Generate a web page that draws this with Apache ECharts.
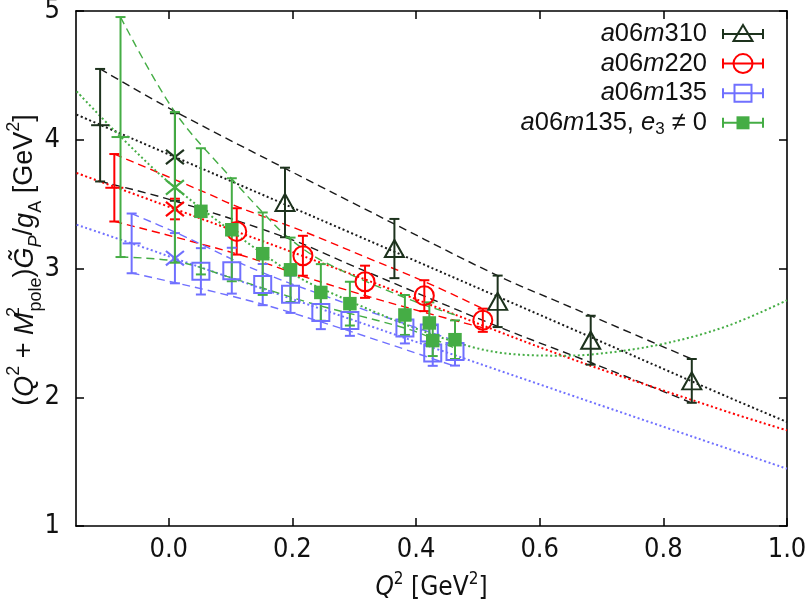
<!DOCTYPE html>
<html><head><meta charset="utf-8">
<script src="https://cdn.jsdelivr.net/npm/echarts@6/dist/echarts.min.js"></script>
<style>html,body{margin:0;padding:0;background:#fff}#c{width:806px;height:602px}</style>
</head><body><div id="c"></div>
<script>
// ---------------- data ----------------
const xTicks = [0.0, 0.2, 0.4, 0.6, 0.8, 1.0];
const yTicks = [1, 2, 3, 4, 5];

const m310Q2  = [0.188, 0.365, 0.532, 0.6825, 0.846];
const m310Val = [3.513, 3.155, 2.745, 2.443, 2.127];
const m310Err = [0.27, 0.23, 0.20, 0.19, 0.17];

const m220Q2  = [0.110, 0.217, 0.3175, 0.4134, 0.508];
const m220Val = [3.288, 3.099, 2.897, 2.789, 2.598];
const m220Err = [0.18, 0.155, 0.125, 0.12, 0.09];

const m135Q2  = [0.052, 0.102, 0.152, 0.197, 0.246, 0.293, 0.382, 0.4215, 0.427, 0.463];
const m135Val = [2.978, 2.983, 2.875, 2.800, 2.659, 2.597, 2.538, 2.500, 2.344, 2.356];
const m135Err = [0.18, 0.178, 0.16, 0.145, 0.13, 0.12, 0.12, 0.10, 0.10, 0.11];

const e3Q2  = [0.052, 0.102, 0.152, 0.197, 0.246, 0.293, 0.382, 0.4215, 0.427, 0.463];
const e3Val = [3.444, 3.301, 3.115, 2.990, 2.814, 2.727, 2.639, 2.577, 2.440, 2.447];
const e3Err = [0.49, 0.40, 0.32, 0.25, 0.22, 0.17, 0.155, 0.16, 0.12, 0.15];

// pole points (order: m310, m220, m135, e3)
const poleQ2  = [-0.111, -0.088, -0.060, -0.078];
const poleVal = [4.113, 3.627, 3.195, 4.021];
const poleErr = [0.437, 0.262, 0.232, 0.932];

// Q^2 = 0 points (order: m310, m220, m135, e3)
const zeroQ2  = [0.010, 0.010, 0.010, 0.010];
const zeroVal = [3.866, 3.462, 3.080, 3.630];
const zeroErr = [0.34, 0.08, 0.195, 0.585];

// fit curves [Q2, value]
const fitM310Mid = [[-0.149,4.195],[0.010,3.866],[0.293,3.28],[0.633,2.571],[0.902,2.007],[1.0,1.808]];
const fitM310Hi  = [[-0.111,4.55],[0.010,4.22],[0.245,3.638],[0.293,3.521],[0.532,2.944],[0.633,2.735],[0.846,2.297]];
const fitM310Lo  = [[-0.111,3.677],[0.010,3.524],[0.196,3.229],[0.293,3.03],[0.532,2.55],[0.6825,2.27],[0.846,1.956]];

const fitM220Mid = [[-0.149,3.742],[0.010,3.462],[0.293,2.96],[0.633,2.33],[0.902,1.89],[1.0,1.743]];
const fitM220Hi  = [[-0.088,3.889],[0.061,3.586],[0.111,3.48],[0.217,3.29],[0.3175,3.09],[0.413,2.90],[0.508,2.688]];
const fitM220Lo  = [[-0.088,3.366],[0.115,3.107],[0.217,2.94],[0.3175,2.79],[0.413,2.66],[0.508,2.54]];

const fitM135Mid = [[-0.149,3.34],[-0.030,3.146],[0.010,3.078],[0.633,2.045],[1.0,1.445]];
const fitM135Hi  = [[-0.060,3.426],[0.013,3.276],[0.164,2.944],[0.463,2.44]];
const fitM135Lo  = [[-0.060,2.965],[0.164,2.706],[0.463,2.24]];

const fitE3Mid = [[-0.149,4.376],[-0.078,4.024],[0.010,3.63],[0.1585,3.094],[0.239,2.861],[0.487,2.395],[0.633,2.323],[0.681,2.331],[0.795,2.41],[0.902,2.551],[1.0,2.753]];
const fitE3Hi  = [[-0.078,4.953],[0.010,4.215],[0.102,3.697],[0.152,3.436],[0.191,3.25],[0.25,3.055],[0.39,2.758],[0.463,2.64]];
const fitE3Lo  = [[-0.078,3.089],[0.013,3.055],[0.094,2.939],[0.229,2.732],[0.390,2.525],[0.463,2.38]];

const legendNames = ['{i|a}06{i|m}310', '{i|a}06{i|m}220', '{i|a}06{i|m}135', '{i|a}06{i|m}135, {i|e}{sb|3} \u2260 0'];
const yTitle = '({i|Q}{sp|2} + {i|M}{sp0|2}{sb|pole}){i|G\u0303}{sbi|P}/{i|g}{sb|A} [GeV{sp|2}]';
const xTitle = '{i|Q}{sp|2} [GeV{sp|2}]';

// ---------------- style ----------------
const COL = { m310: '#1d321d', m220: '#ff0000', m135: '#7070ff', e3: '#45ad45' };
const LINECOL = { m310: '#1a1a1a', m220: '#ff0000', m135: '#7070ff', e3: '#45ad45' };
const NARROW = "'Liberation Sans Narrow','DejaVu Sans Condensed','Liberation Sans',sans-serif";
const SANS = "'Liberation Sans','DejaVu Sans',sans-serif";

function zip3(a, b, c) { return a.map((v, i) => [v, b[i], c[i]]); }

function errSeries(data, color, opts) {
  opts = opts || {};
  const cap = 5, plus = opts.plus || 0, cross = opts.cross || 0;
  return {
    type: 'custom', data: data, encode: { x: 0, y: 1 }, z: opts.z || 3,
    renderItem: function (params, api) {
      const x = api.value(0), y = api.value(1), e = api.value(2);
      const t = api.coord([x, y + e]), b = api.coord([x, y - e]), c = api.coord([x, y]);
      const st = { stroke: color, lineWidth: 2, fill: null };
      const ch = [
        { type: 'line', shape: { x1: t[0], y1: t[1], x2: b[0], y2: b[1] }, style: st },
        { type: 'line', shape: { x1: t[0] - cap, y1: t[1], x2: t[0] + cap, y2: t[1] }, style: st },
        { type: 'line', shape: { x1: b[0] - cap, y1: b[1], x2: b[0] + cap, y2: b[1] }, style: st }
      ];
      if (plus) ch.push({ type: 'line', shape: { x1: c[0] - plus, y1: c[1], x2: c[0] + plus, y2: c[1] }, style: st });
      if (cross) {
        ch.push({ type: 'line', shape: { x1: c[0] - cross, y1: c[1] - cross * 0.8, x2: c[0] + cross, y2: c[1] + cross * 0.8 }, style: { stroke: color, lineWidth: 2.2 } });
        ch.push({ type: 'line', shape: { x1: c[0] - cross, y1: c[1] + cross * 0.8, x2: c[0] + cross, y2: c[1] - cross * 0.8 }, style: { stroke: color, lineWidth: 2.2 } });
      }
      return { type: 'group', children: ch };
    }
  };
}

function markSeries(xs, ys, symbol, size, color, filled) {
  return {
    type: 'scatter', data: xs.map((v, i) => [v, ys[i]]), symbol: symbol, symbolSize: size, z: 4,
    itemStyle: { color: filled ? color : 'rgba(255,255,255,0)', borderColor: color, borderWidth: filled ? 0 : 2, opacity: 1 },
    emphasis: { disabled: true }, silent: true
  };
}

function fitLine(data, color, kind) {
  return {
    type: 'line', data: data, showSymbol: false, symbol: 'none', smooth: 0.35, z: 2, silent: true,
    lineStyle: { color: color, width: kind === 'dot' ? 2 : 1.4, type: kind === 'dot' ? [2, 2.6] : [8, 5], cap: 'butt' }
  };
}

const series = [
  fitLine(fitM310Hi, LINECOL.m310, 'dash'), fitLine(fitM310Lo, LINECOL.m310, 'dash'), fitLine(fitM310Mid, LINECOL.m310, 'dot'),
  fitLine(fitM220Hi, LINECOL.m220, 'dash'), fitLine(fitM220Lo, LINECOL.m220, 'dash'), fitLine(fitM220Mid, LINECOL.m220, 'dot'),
  fitLine(fitM135Hi, LINECOL.m135, 'dash'), fitLine(fitM135Lo, LINECOL.m135, 'dash'), fitLine(fitM135Mid, LINECOL.m135, 'dot'),
  fitLine(fitE3Hi, LINECOL.e3, 'dash'), fitLine(fitE3Lo, LINECOL.e3, 'dash'), fitLine(fitE3Mid, LINECOL.e3, 'dot')
];
const keys = ['m310', 'm220', 'm135', 'e3'];
keys.forEach((k, i) => {
  series.push(errSeries([[poleQ2[i], poleVal[i], poleErr[i]]], COL[k], { plus: 9, z: 3 }));
  series.push(errSeries([[zeroQ2[i], zeroVal[i], zeroErr[i]]], COL[k], { cross: 9, z: 3 }));
});
series.push(errSeries(zip3(m310Q2, m310Val, m310Err), COL.m310));
series.push(markSeries(m310Q2, m310Val, 'triangle', [19, 17], COL.m310, false));
series.push(errSeries(zip3(m220Q2, m220Val, m220Err), COL.m220));
series.push(markSeries(m220Q2, m220Val, 'circle', 19, COL.m220, false));
series.push(errSeries(zip3(m135Q2, m135Val, m135Err), COL.m135));
series.push(markSeries(m135Q2, m135Val, 'rect', 17, COL.m135, false));
series.push(errSeries(zip3(e3Q2, e3Val, e3Err), COL.e3));
series.push(markSeries(e3Q2, e3Val, 'rect', 13.5, COL.e3, true));

// ---------------- legend + y title (graphic) ----------------
const graphic = [];
const LEGFS = 25.5;
const legRich = {
  i: { fontStyle: 'italic', fontSize: LEGFS, fontFamily: SANS, lineHeight: 30 },
  sb: { fontSize: 17, fontFamily: SANS, lineHeight: 16, verticalAlign: 'bottom' }
};
keys.forEach((k, i) => {
  const yc = 34 + i * 29.6;
  const c = COL[k];
  graphic.push({ type: 'text', x: 707, y: yc, style: { text: legendNames[i], rich: legRich, fontSize: LEGFS, fontFamily: SANS, fill: '#111', align: 'right', verticalAlign: 'middle', lineHeight: 30 } });
  const st = { stroke: c, lineWidth: 2, fill: null };
  graphic.push({ type: 'line', shape: { x1: 723, y1: yc, x2: 763, y2: yc }, style: st });
  graphic.push({ type: 'line', shape: { x1: 723, y1: yc - 5, x2: 723, y2: yc + 5 }, style: st });
  graphic.push({ type: 'line', shape: { x1: 763, y1: yc - 5, x2: 763, y2: yc + 5 }, style: st });
  if (k === 'm310') graphic.push({ type: 'polygon', shape: { points: [[743, yc - 9], [752.5, yc + 7], [733.5, yc + 7]] }, style: { stroke: c, lineWidth: 2, fill: 'rgba(255,255,255,0)' } });
  if (k === 'm220') graphic.push({ type: 'circle', shape: { cx: 743, cy: yc, r: 9.5 }, style: { stroke: c, lineWidth: 2, fill: 'rgba(255,255,255,0)' } });
  if (k === 'm135') graphic.push({ type: 'rect', shape: { x: 734.5, y: yc - 8.5, width: 17, height: 17 }, style: { stroke: c, lineWidth: 2, fill: 'rgba(255,255,255,0)' } });
  if (k === 'e3') graphic.push({ type: 'rect', shape: { x: 736.5, y: yc - 6.5, width: 13, height: 13 }, style: { fill: c } });
});
graphic.push({
  type: 'text', x: 25, y: 260, rotation: Math.PI / 2,
  style: {
    text: yTitle, fontSize: 27, fontFamily: SANS, fill: '#111', lineHeight: 40, align: 'center', verticalAlign: 'middle',
    rich: {
      i: { fontStyle: 'italic', fontSize: 27, fontFamily: SANS, lineHeight: 40 },
      sp: { fontSize: 18, fontFamily: SANS, lineHeight: 22, verticalAlign: 'top' },
      sp0: { fontSize: 18, fontFamily: SANS, lineHeight: 22, verticalAlign: 'top', width: 1 },
      sb: { fontSize: 18, fontFamily: SANS, lineHeight: 22, verticalAlign: 'bottom' },
      sbi: { fontSize: 18, fontStyle: 'italic', fontFamily: SANS, lineHeight: 22, verticalAlign: 'bottom' }
    }
  }
});

// ---------------- axes ----------------
const axLine = { show: true, onZero: false, lineStyle: { color: '#000', width: 1.6 } };
function tick(vals) { return { show: true, inside: true, length: 8, customValues: vals, lineStyle: { color: '#000', width: 1.5 } }; }

const option = {
  animation: false,
  backgroundColor: '#fff',
  grid: { left: 76, right: 19, top: 11, bottom: 76, containLabel: false, outerBoundsMode: 'none' },
  xAxis: [
    {
      type: 'value', min: -0.15, max: 1.0, position: 'bottom',
      axisLine: axLine, axisTick: tick(xTicks), splitLine: { show: false },
      axisLabel: { customValues: xTicks, formatter: v => v.toFixed(1), fontSize: 27, fontFamily: NARROW, color: '#111', margin: 10 },
      name: xTitle, nameLocation: 'middle', nameGap: 45, nameMoveOverlap: false,
      nameTextStyle: {
        fontSize: 26, fontFamily: NARROW, color: '#111', lineHeight: 34,
        rich: {
          i: { fontStyle: 'italic', fontSize: 26, fontFamily: NARROW, lineHeight: 34 },
          sp: { fontSize: 17, fontFamily: NARROW, lineHeight: 20, verticalAlign: 'top' }
        }
      }
    },
    {
      type: 'value', min: -0.15, max: 1.0, position: 'top',
      axisLine: axLine, axisTick: tick(xTicks), axisLabel: { show: false }, splitLine: { show: false }
    }
  ],
  yAxis: [
    {
      type: 'value', min: 1, max: 5, interval: 1, position: 'left',
      axisLine: axLine, axisTick: tick(yTicks), splitLine: { show: false },
      axisLabel: { customValues: yTicks, formatter: v => String(v), fontSize: 27, fontFamily: NARROW, color: '#111', margin: 16 }
    },
    {
      type: 'value', min: 1, max: 5, interval: 1, position: 'right',
      axisLine: axLine, axisTick: tick(yTicks), axisLabel: { show: false }, splitLine: { show: false }
    }
  ],
  series: series,
  graphic: graphic
};

const chart = echarts.init(document.getElementById('c'), null, { renderer: 'canvas' });
chart.setOption(option);
</script>
</body></html>
